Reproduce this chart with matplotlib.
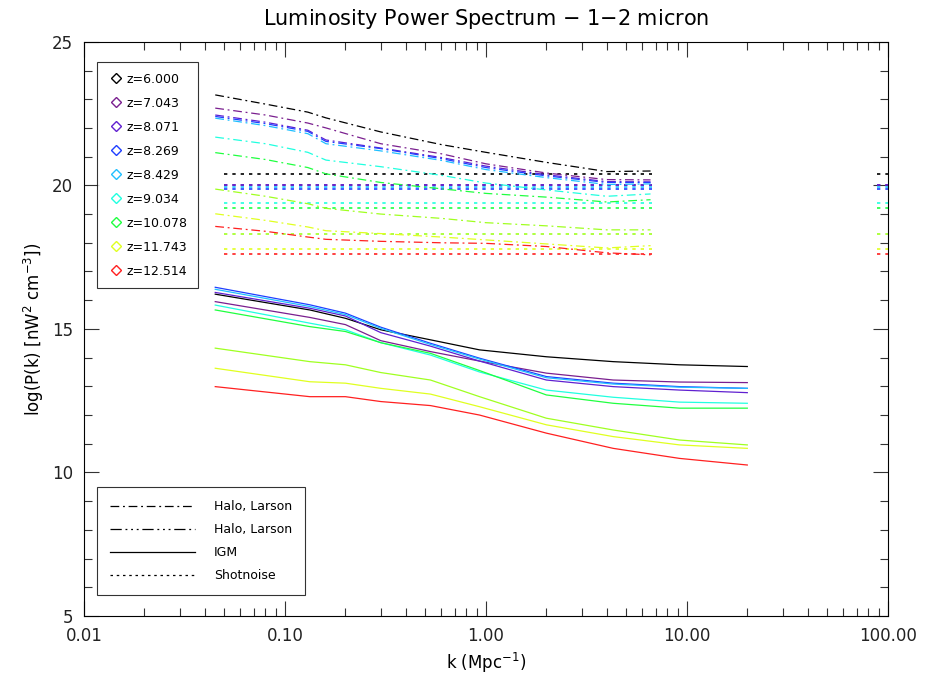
import matplotlib.pyplot as plt
from matplotlib.lines import Line2D

# redshift labels and colours (one extra unlabelled chartreuse curve)
z_labels = ["z=6.000", "z=7.043", "z=8.071", "z=8.269", "z=8.429",
            "z=9.034", "z=10.078", None, "z=11.743", "z=12.514"]
colors = ["#000000", "#7a1f8f", "#6020d0", "#1f3fff", "#1fbfff",
          "#20ffe0", "#20ff40", "#a0ff20", "#e0ff20", "#ff2020"]

# halo (dash-dot) curves
k_halo = [0.045, 0.08, 0.13, 0.16, 0.3, 0.6, 1.0, 2.0, 4.0, 6.6]
halo = [
    [23.15, 22.83, 22.55, 22.35, 21.86, 21.42, 21.15, 20.80, 20.48, 20.50],
    [22.69, 22.45, 22.17, 22.00, 21.45, 21.10, 20.75, 20.43, 20.20, 20.19],
    [22.45, 22.20, 21.92, 21.58, 21.30, 20.97, 20.67, 20.37, 20.13, 20.12],
    [22.40, 22.15, 21.88, 21.53, 21.28, 20.93, 20.62, 20.33, 20.10, 20.10],
    [22.34, 22.08, 21.80, 21.45, 21.20, 20.87, 20.55, 20.27, 20.03, 20.05],
    [21.68, 21.45, 21.15, 20.88, 20.65, 20.35, 20.08, 19.84, 19.62, 19.70],
    [21.14, 20.90, 20.62, 20.40, 20.10, 19.88, 19.72, 19.59, 19.42, 19.50],
    [19.87, 19.62, 19.36, 19.20, 19.00, 18.85, 18.70, 18.59, 18.45, 18.45],
    [19.01, 18.78, 18.55, 18.42, 18.32, 18.20, 18.10, 17.96, 17.82, 17.90],
    [18.57, 18.40, 18.20, 18.12, 18.05, 18.00, 17.98, 17.87, 17.65, 17.58],
]

# IGM (solid) curves
k_igm = [0.045, 0.133, 0.2, 0.3, 0.53, 0.93, 2.0, 4.3, 9.2, 20.0]
igm = [
    [16.21, 15.66, 15.37, 14.97, 14.62, 14.27, 14.03, 13.86, 13.75, 13.69],
    [15.95, 15.40, 15.15, 14.59, 14.21, 13.88, 13.46, 13.22, 13.15, 13.13],
    [16.27, 15.72, 15.45, 14.87, 14.40, 13.88, 13.22, 12.99, 12.87, 12.78],
    [16.45, 15.84, 15.55, 15.06, 14.50, 13.98, 13.34, 13.11, 12.99, 12.93],
    [16.38, 15.78, 15.50, 15.02, 14.46, 13.95, 13.30, 13.08, 12.97, 12.93],
    [15.83, 15.20, 14.97, 14.52, 14.09, 13.50, 12.87, 12.62, 12.45, 12.41],
    [15.66, 15.08, 14.91, 14.52, 14.15, 13.55, 12.70, 12.41, 12.24, 12.24],
    [14.33, 13.86, 13.75, 13.48, 13.22, 12.64, 11.89, 11.48, 11.13, 10.96],
    [13.63, 13.16, 13.11, 12.93, 12.73, 12.29, 11.66, 11.25, 10.96, 10.84],
    [12.99, 12.64, 12.64, 12.47, 12.33, 12.00, 11.37, 10.84, 10.49, 10.26],
]

# shot noise levels (flat), drawn over the two visible k ranges
shot = [20.38, 20.00, 20.00, 19.89, 19.95, 19.40, 19.22, 18.30, 17.78, 17.62]
k_shot_a = [0.05, 6.7]
k_shot_b = [88.0, 100.0]

xtick_vals = [0.01, 0.1, 1.0, 10.0, 100.0]
xtick_labels = ["0.01", "0.10", "1.00", "10.00", "100.00"]

fig = plt.figure(figsize=(9.26, 6.74), dpi=100)
ax = fig.add_axes([0.0907, 0.086, 0.868, 0.852])

halo_style = (0, (7, 3, 1.5, 3))
dot_style = (0, (2, 3))

for i in range(len(colors)):
    c = colors[i]
    ax.plot(k_halo, halo[i], color=c, lw=0.9, linestyle=halo_style)
    ax.plot(k_igm, igm[i], color=c, lw=0.9)
    ax.plot(k_shot_a, [shot[i]] * 2, color=c, lw=1.2, linestyle=dot_style)
    ax.plot(k_shot_b, [shot[i]] * 2, color=c, lw=1.2, linestyle=dot_style)

ax.set_xscale("log")
ax.set_xlim(0.01, 100)
ax.set_ylim(5, 25)
ax.set_xticks(xtick_vals)
ax.set_xticklabels(xtick_labels)
ax.set_yticks([5, 10, 15, 20, 25])
ax.set_yticks(range(5, 26), minor=True)
ax.tick_params(which="both", direction="in", top=True, right=True,
               labelsize=12, color="#333333", labelcolor="#222222")
ax.tick_params(which="major", length=11, width=0.8, pad=8)
ax.tick_params(which="minor", length=6, width=0.8)
for s in ax.spines.values():
    s.set_linewidth(0.8)

ax.set_title("Luminosity Power Spectrum $-$ 1$-$2 micron", fontsize=15, pad=12)
ax.set_xlabel("k (Mpc$^{-1}$)", fontsize=12)
ax.set_ylabel("log(P(k) [nW$^2$ cm$^{-3}$])", fontsize=12)

# legend 1: redshift markers
z_handles = []
for lab, c in zip(z_labels, colors):
    if lab is None:
        continue
    z_handles.append(Line2D([], [], marker="D", markersize=5, linestyle="none",
                            markerfacecolor="none", markeredgecolor=c,
                            markeredgewidth=1.0, label=lab))
leg1 = ax.legend(handles=z_handles, loc="upper left", bbox_to_anchor=(0.016, 0.965),
                 fontsize=9, frameon=True, fancybox=False, edgecolor="black",
                 borderaxespad=0, handletextpad=0.2, labelspacing=0.88,
                 borderpad=0.85, handlelength=1.3)
leg1.get_frame().set_linewidth(0.8)
ax.add_artist(leg1)

# legend 2: line styles
style_handles = [
    Line2D([], [], color="black", lw=0.9, linestyle=halo_style, label="Halo, Larson"),
    Line2D([], [], color="black", lw=0.9, linestyle=(0, (9, 3, 1.5, 3, 1.5, 3, 1.5, 3)),
           label="Halo, Larson"),
    Line2D([], [], color="black", lw=0.9, linestyle="-", label="IGM"),
    Line2D([], [], color="black", lw=0.9, linestyle=dot_style, label="Shotnoise"),
]
leg2 = ax.legend(handles=style_handles, loc="lower left", bbox_to_anchor=(0.016, 0.0366),
                 fontsize=9, frameon=True, fancybox=False, edgecolor="black",
                 borderaxespad=0, handlelength=6.8, handletextpad=1.5,
                 labelspacing=0.8, borderpad=1.05)
leg2.get_frame().set_linewidth(0.8)

fig.savefig("out.png", dpi=100)
